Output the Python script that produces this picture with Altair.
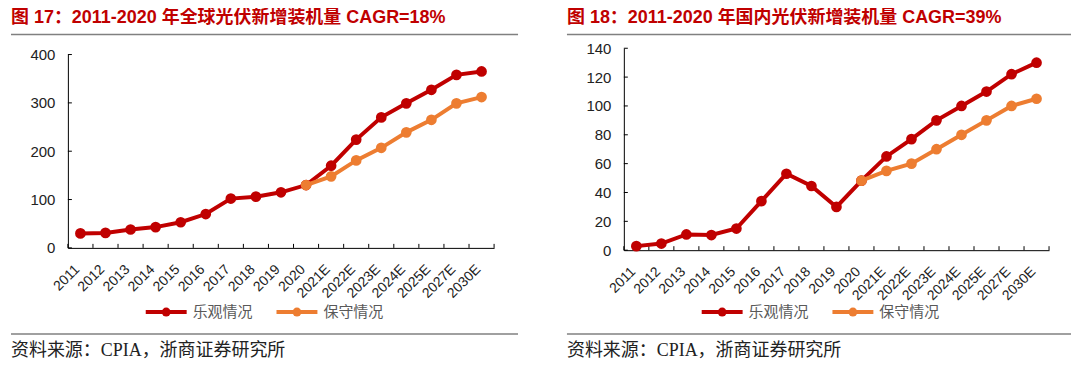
import altair as alt
import pandas as pd

categories = ["2011", "2012", "2013", "2014", "2015", "2016", "2017", "2018", "2019", "2020",
              "2021E", "2022E", "2023E", "2024E", "2025E", "2027E", "2030E"]
forecast_categories = categories[9:]

global_optimistic = [30, 31, 38, 43, 53, 70, 102, 106, 115, 130, 170, 224, 270, 299, 327, 358, 365]
global_conservative = [130, 148, 181, 207, 239, 265, 299, 312]

china_optimistic = [2.8, 4.6, 10.9, 10.5, 15, 34, 53, 44.5, 30, 48.2, 65, 77, 90, 100, 110, 122, 130]
china_conservative = [48.2, 55, 60, 70, 80, 90, 100, 105]

global_ticks = [0, 100, 200, 300, 400]
china_ticks = [0, 20, 40, 60, 80, 100, 120, 140]

series_names = ["乐观情况", "保守情况"]
title_left = "图 17：2011-2020 年全球光伏新增装机量 CAGR=18%"
title_right = "图 18：2011-2020 年国内光伏新增装机量 CAGR=39%"
source_text = "资料来源：CPIA，浙商证券研究所"

RED = "#C00000"
ORANGE = "#ED7D31"
GREY = "#808080"
SANS = "Liberation Sans, Arial, Noto Sans CJK SC, sans-serif"
SERIF = "Liberation Serif, Noto Sans CJK SC, serif"

one = pd.DataFrame({"k": [0]})

# all panels share the same plot origin (page y = 46.7)
TOP = 46.7


def txt(text, x, y, size, color, font, weight="normal", baseline="middle"):
    return alt.Chart(one).mark_text(
        text=text, align="left", baseline=baseline, fontSize=size, color=color,
        font=font, fontWeight=weight
    ).encode(x=alt.value(x), y=alt.value(y))


def hrule(x1, x2, y, color=GREY, width=1.5):
    return alt.Chart(one).mark_rule(color=color, strokeWidth=width).encode(
        x=alt.value(x1), x2=alt.value(x2), y=alt.value(y))


def panel(title, opt, con, yticks, W, H, ytop, right_end):
    df_opt = pd.DataFrame({"cat": categories, "v": opt})
    df_con = pd.DataFrame({"cat": forecast_categories, "v": con})
    xscale = alt.Scale(type="band", domain=categories, paddingInner=0, paddingOuter=0)
    yscale = alt.Scale(domain=[yticks[0], yticks[-1]], nice=False, range=[H, ytop])
    xaxis = alt.Axis(title=None, labelAngle=-45, labelAlign="right", labelBaseline="middle",
                     labelFontSize=14, labelColor="#222222", labelFont=SANS, tickSize=0,
                     domainColor="#000000", labelPadding=19, labelOffset=-3)
    yaxis = alt.Axis(title=None, values=yticks, labelFontSize=15, labelColor="#222222",
                     labelFont=SANS, tickSize=0, domainColor="#000000", labelPadding=13,
                     grid=False)

    def X(bp):
        return alt.X("cat:N", scale=xscale, sort=categories, bandPosition=bp, axis=xaxis)

    def Y(field):
        return alt.Y(field, scale=yscale, axis=yaxis)

    xt = alt.Chart(df_opt).mark_rule(color="#000000").encode(
        x=X(0), y=alt.value(H), y2=alt.value(H - 4))
    xt_end = alt.Chart(one).mark_rule(color="#000000").encode(
        x=alt.value(W), y=alt.value(H), y2=alt.value(H - 4))
    yt = alt.Chart(pd.DataFrame({"t": yticks})).mark_rule(color="#000000").encode(
        y=Y("t:Q"), x=alt.value(0), x2=alt.value(4))

    line_opt = alt.Chart(df_opt).mark_line(
        color=RED, strokeWidth=4,
        point=alt.OverlayMarkDef(filled=True, size=115, color=RED, opacity=1)
    ).encode(x=X(0.5), y=Y("v:Q"))
    line_con = alt.Chart(df_con).mark_line(
        color=ORANGE, strokeWidth=4,
        point=alt.OverlayMarkDef(filled=True, size=115, color=ORANGE, opacity=1)
    ).encode(x=X(0.5), y=Y("v:Q"))

    left = -57
    ly = 311 - TOP
    legend = [
        hrule(78, 119, ly, RED, 4),
        alt.Chart(one).mark_point(filled=True, size=80, color=RED, opacity=1).encode(
            x=alt.value(98.5), y=alt.value(ly)),
        txt(series_names[0], 125, ly, 15, "#595959", SERIF),
        hrule(209, 250, ly, ORANGE, 4),
        alt.Chart(one).mark_point(filled=True, size=80, color=ORANGE, opacity=1).encode(
            x=alt.value(229.5), y=alt.value(ly)),
        txt(series_names[1], 256, ly, 15, "#595959", SERIF),
    ]
    deco = [
        txt(title, left, 7 - TOP, 18, RED, SANS, "bold", "top"),
        hrule(left, right_end, 33 - TOP),
        hrule(left, right_end, 333 - TOP),
        txt(source_text, left, 350 - TOP, 18, "#222222", SERIF),
    ]
    return alt.layer(xt, xt_end, yt, line_opt, line_con, *legend, *deco).properties(
        width=W, height=H)


# left plot: top of y range at page 53, bottom at 246.7
left_panel = panel(title_left, global_optimistic, global_conservative, global_ticks,
                   427, 200, 6.3, 451)
# right plot: top at page 46.7, bottom at 249
right_panel = panel(title_right, china_optimistic, china_conservative, china_ticks,
                    426, 202.3, 0, 448)

chart = alt.hconcat(left_panel, right_panel, spacing=47).properties(
    padding={"left": 2, "top": 0, "right": 0, "bottom": 0},
    background="white",
).configure_view(stroke=None)

chart.save("out.html", embed_options={"renderer": "svg", "actions": False})
